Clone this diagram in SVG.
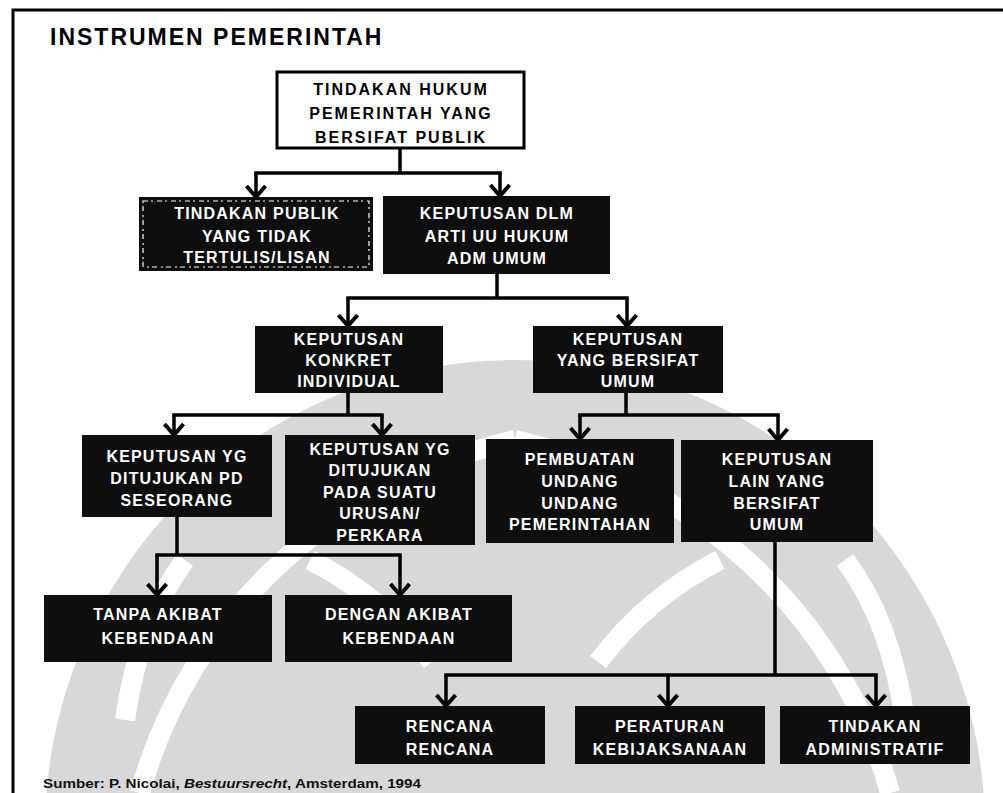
<svg xmlns="http://www.w3.org/2000/svg" width="1003" height="793" viewBox="0 0 1003 793">
  <defs>
    <style>
      .conn { fill: none; stroke: #000; stroke-width: 3.5; stroke-linecap: square; }
      .arrowed { marker-end: url(#arrow); stroke-linecap: butt; }
      .box { fill: #0e0e0e; }
      .outline { fill: #fff; stroke: #000; stroke-width: 3; }
      .lbl { font-family: "Liberation Sans", Arial, sans-serif; font-weight: bold; font-size: 16px; fill: #fff; text-anchor: middle; letter-spacing: 1.2px; }
      .dark { fill: #000; letter-spacing: 2px; }
      .title { font-family: "Liberation Sans", Arial, sans-serif; font-weight: bold; font-size: 23px; fill: #000; letter-spacing: 2px; }
      .src { font-family: "Liberation Sans", Arial, sans-serif; font-weight: bold; font-size: 12.5px; fill: #111; }
      .dots { fill: none; stroke: #fff; stroke-width: 1.2; stroke-dasharray: 5 3 2 4; }
      .wm { fill: #d8d8d8; }
      .wmcut { fill: none; stroke: #fff; stroke-width: 20; }
    </style>
    <marker id="arrow" markerUnits="userSpaceOnUse" viewBox="0 0 24 24" markerWidth="24" markerHeight="24" refX="12" refY="12" orient="auto" overflow="visible">
      <path d="M1,2.5 L12,12 L1,21.5" fill="none" stroke="#000" stroke-width="4"/>
    </marker>
  </defs>

  <rect width="1003" height="793" fill="#fff"/>

  <!-- faint emblem in the background -->
  <g id="watermark">
    <circle class="wm" cx="515" cy="830" r="470"/>
    <path class="wmcut" d="M140,793 C190,610 340,480 515,440"/>
    <path class="wmcut" d="M890,793 C840,610 690,480 515,440"/>
    <path class="wmcut" d="M598,662 C630,620 670,585 720,560"/>
    <path class="wmcut" d="M432,662 C400,620 360,585 310,560"/>
    <path class="wmcut" d="M845,560 C875,600 895,650 905,720"/>
    <path class="wmcut" d="M185,560 C155,600 135,650 125,720"/>
  </g>

  <!-- page frame -->
  <path d="M13,793 V10 H1003" fill="none" stroke="#000" stroke-width="3"/>

  <text class="title" x="50" y="45">INSTRUMEN PEMERINTAH</text>

  <g id="connectors">
    <path class="conn" d="M400,148 V173 M256,173 H500"/>
    <path class="conn arrowed" d="M256,173 V197"/>
    <path class="conn arrowed" d="M500,173 V196"/>

    <path class="conn" d="M497,274 V298 M348,298 H627"/>
    <path class="conn arrowed" d="M348,298 V326"/>
    <path class="conn arrowed" d="M627,298 V326"/>

    <path class="conn" d="M348,393 V415 M174,415 H382"/>
    <path class="conn arrowed" d="M174,415 V435"/>
    <path class="conn arrowed" d="M382,415 V435"/>

    <path class="conn" d="M626,393 V415 M580,415 H778"/>
    <path class="conn arrowed" d="M580,415 V439"/>
    <path class="conn arrowed" d="M778,415 V440"/>

    <path class="conn" d="M177,517 V555 M157,555 H400"/>
    <path class="conn arrowed" d="M157,555 V595"/>
    <path class="conn arrowed" d="M400,555 V595"/>

    <path class="conn" d="M775,542 V675 M446,675 H876"/>
    <path class="conn arrowed" d="M446,675 V706"/>
    <path class="conn arrowed" d="M668,675 V706"/>
    <path class="conn arrowed" d="M876,675 V706"/>
  </g>

  <g id="n-tindakan-hukum">
    <rect class="outline" x="277" y="72" width="247" height="76"/>
    <text class="lbl dark" x="401" y="95">TINDAKAN  HUKUM</text>
    <text class="lbl dark" x="401" y="119">PEMERINTAH YANG</text>
    <text class="lbl dark" x="401" y="143">BERSIFAT PUBLIK</text>
  </g>

  <g id="n-tindakan-publik">
    <rect class="box" x="139" y="197" width="234" height="74"/>
    <rect class="dots" x="143" y="201" width="226" height="66"/>
    <text class="lbl" x="257" y="219">TINDAKAN PUBLIK</text>
    <text class="lbl" x="257" y="242">YANG TIDAK</text>
    <text class="lbl" x="257" y="263">TERTULIS/LISAN</text>
  </g>

  <g id="n-keputusan-dlm">
    <rect class="box" x="383" y="196" width="227" height="78"/>
    <text class="lbl" x="497" y="219">KEPUTUSAN DLM</text>
    <text class="lbl" x="497" y="242">ARTI UU HUKUM</text>
    <text class="lbl" x="497" y="264">ADM UMUM</text>
  </g>

  <g id="n-konkret">
    <rect class="box" x="255" y="326" width="188" height="67"/>
    <text class="lbl" x="349" y="345">KEPUTUSAN</text>
    <text class="lbl" x="349" y="366">KONKRET</text>
    <text class="lbl" x="349" y="387">INDIVIDUAL</text>
  </g>

  <g id="n-bersifat-umum">
    <rect class="box" x="533" y="326" width="190" height="67"/>
    <text class="lbl" x="628" y="345">KEPUTUSAN</text>
    <text class="lbl" x="628" y="366">YANG BERSIFAT</text>
    <text class="lbl" x="628" y="387">UMUM</text>
  </g>

  <g id="n-seseorang">
    <rect class="box" x="82" y="435" width="190" height="82"/>
    <text class="lbl" x="177" y="462">KEPUTUSAN YG</text>
    <text class="lbl" x="177" y="484">DITUJUKAN PD</text>
    <text class="lbl" x="177" y="506">SESEORANG</text>
  </g>

  <g id="n-perkara">
    <rect class="box" x="285" y="435" width="190" height="110"/>
    <text class="lbl" x="380" y="455">KEPUTUSAN YG</text>
    <text class="lbl" x="380" y="476">DITUJUKAN</text>
    <text class="lbl" x="380" y="498">PADA SUATU</text>
    <text class="lbl" x="380" y="519">URUSAN/</text>
    <text class="lbl" x="380" y="541">PERKARA</text>
  </g>

  <g id="n-pembuatan">
    <rect class="box" x="486" y="439" width="188" height="104"/>
    <text class="lbl" x="580" y="465">PEMBUATAN</text>
    <text class="lbl" x="580" y="487">UNDANG</text>
    <text class="lbl" x="580" y="509">UNDANG</text>
    <text class="lbl" x="580" y="530">PEMERINTAHAN</text>
  </g>

  <g id="n-keputusan-lain">
    <rect class="box" x="681" y="440" width="192" height="102"/>
    <text class="lbl" x="777" y="465">KEPUTUSAN</text>
    <text class="lbl" x="777" y="487">LAIN YANG</text>
    <text class="lbl" x="777" y="509">BERSIFAT</text>
    <text class="lbl" x="777" y="530">UMUM</text>
  </g>

  <g id="n-tanpa">
    <rect class="box" x="44" y="595" width="228" height="67"/>
    <text class="lbl" x="158" y="620">TANPA AKIBAT</text>
    <text class="lbl" x="158" y="644">KEBENDAAN</text>
  </g>

  <g id="n-dengan">
    <rect class="box" x="285" y="595" width="227" height="67"/>
    <text class="lbl" x="399" y="620">DENGAN AKIBAT</text>
    <text class="lbl" x="399" y="644">KEBENDAAN</text>
  </g>

  <g id="n-rencana">
    <rect class="box" x="355" y="706" width="190" height="58"/>
    <text class="lbl" x="450" y="732">RENCANA</text>
    <text class="lbl" x="450" y="755">RENCANA</text>
  </g>

  <g id="n-peraturan">
    <rect class="box" x="575" y="706" width="190" height="58"/>
    <text class="lbl" x="670" y="732">PERATURAN</text>
    <text class="lbl" x="670" y="755">KEBIJAKSANAAN</text>
  </g>

  <g id="n-tindakan-adm">
    <rect class="box" x="780" y="706" width="190" height="58"/>
    <text class="lbl" x="875" y="732">TINDAKAN</text>
    <text class="lbl" x="875" y="755">ADMINISTRATIF</text>
  </g>

  <text class="src" x="43" y="788" textLength="378" lengthAdjust="spacingAndGlyphs">Sumber: P. Nicolai, <tspan font-style="italic">Bestuursrecht</tspan>, Amsterdam, 1994</text>
</svg>
